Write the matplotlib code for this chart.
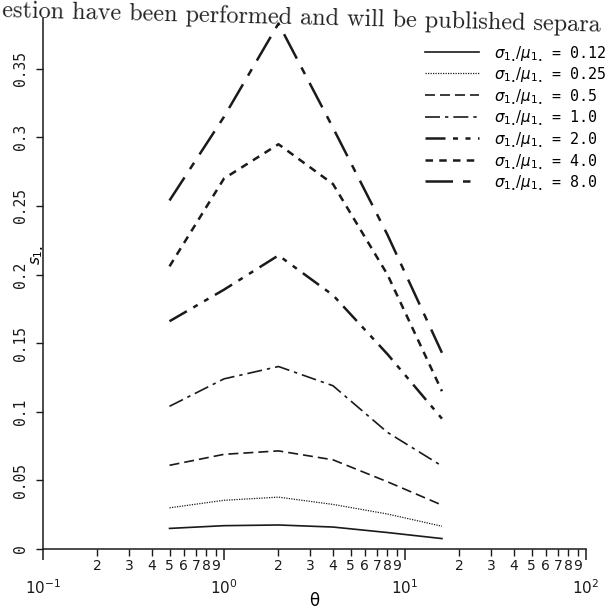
import numpy as np
import matplotlib
matplotlib.use("Agg")
import matplotlib.pyplot as plt
from matplotlib.ticker import FixedLocator, FuncFormatter

# ---- data ----
theta = [0.5, 1.0, 2.0, 4.0, 8.0, 16.0]
ratios = ["0.12", "0.25", "0.5", "1.0", "2.0", "4.0", "8.0"]
s_012 = [0.015, 0.017, 0.0175, 0.016, 0.012, 0.0076]
s_025 = [0.030, 0.0355, 0.0378, 0.0325, 0.0255, 0.0166]
s_05 = [0.061, 0.069, 0.0715, 0.065, 0.049, 0.032]
s_10 = [0.104, 0.124, 0.133, 0.119, 0.085, 0.0605]
s_20 = [0.166, 0.189, 0.214, 0.185, 0.142, 0.095]
s_40 = [0.206, 0.270, 0.295, 0.266, 0.200, 0.115]
s_80 = [0.254, 0.315, 0.383, 0.307, 0.229, 0.143]
series = [s_012, s_025, s_05, s_10, s_20, s_40, s_80]
yticks = [0, 0.05, 0.1, 0.15, 0.2, 0.25, 0.3, 0.35]
ytick_labels = ["0", "0.05", "0.1", "0.15", "0.2", "0.25", "0.3", "0.35"]
xmajor = [0.1, 1, 10, 100]
xmajor_labels = [r"$10^{-1}$", r"$10^{0}$", r"$10^{1}$", r"$10^{2}$"]
header_text = "estion have been performed and will be published separa"

styles = [
    dict(ls="-", lw=1.2),
    dict(ls=(0, (1, 1)), lw=0.9),
    dict(ls=(0, (6, 3)), lw=1.2),
    dict(ls=(0, (9, 3, 2, 3)), lw=1.2),
    dict(ls=(0, (8, 3, 2, 3, 2, 3)), lw=1.8),
    dict(ls=(0, (3, 2.5)), lw=1.8),
    dict(ls=(0, (11, 4, 3, 4)), lw=1.8),
]

W, H = 609, 611
fig = plt.figure(figsize=(W / 100, H / 100), dpi=100)
fig.patch.set_facecolor("white")
left, right, bottom_px, top_px = 43, 586, 549, 18
ax = fig.add_axes([left / W, (H - bottom_px) / H, (right - left) / W, (bottom_px - top_px) / H])

for ys, st, r in zip(series, styles, ratios):
    ax.plot(theta, ys, color="#1a1a1a", linestyle=st["ls"], lw=st["lw"],
            label=r"$\sigma_{1_{\bullet}}/\mu_{1_{\bullet}}$ = " + r)

ax.set_xscale("log")
ax.set_xlim(0.1, 100)
ax.set_ylim(0, 0.387)

ax.spines["top"].set_visible(False)
ax.spines["right"].set_visible(False)
for s in ("left", "bottom"):
    ax.spines[s].set_linewidth(1.1)
    ax.spines[s].set_color("#1a1a1a")

ax.xaxis.set_major_locator(FixedLocator(xmajor))
ax.xaxis.set_major_formatter(FuncFormatter(lambda v, p: xmajor_labels[p] if p is not None and p < len(xmajor_labels) else ""))
minors = [d * 10.0 ** e for e in (-1, 0, 1) for d in range(2, 10)]
ax.xaxis.set_minor_locator(FixedLocator(minors))
ax.xaxis.set_minor_formatter(FuncFormatter(lambda v, p: str(int(round(v / 10 ** np.floor(np.log10(v) + 1e-9))))))
ax.tick_params(axis="x", which="major", length=8, width=1.1, pad=13, labelsize=11, colors="#1a1a1a")
ax.tick_params(axis="x", which="minor", length=5, width=1.0, pad=2, labelsize=10, colors="#1a1a1a")

ax.set_yticks(yticks)
ax.set_yticklabels(ytick_labels, rotation=90, va="center", family="DejaVu Sans Mono", fontsize=10.5)
ax.tick_params(axis="y", which="major", length=5, width=1.0, pad=6, colors="#1a1a1a")

fig.text(314 / W, 1 - 601 / H, "θ", ha="center", va="center", fontsize=12, family="DejaVu Sans")
fig.text(37 / W, 1 - 255 / H, r"$s_{1_{\bullet}}$", ha="center", va="center", rotation=90, fontsize=11)

leg = ax.legend(loc="upper right", bbox_to_anchor=(606 / W, 1 - 44 / H), bbox_transform=fig.transFigure,
                frameon=False, handlelength=3.6, handletextpad=1.0, labelspacing=0.2,
                borderpad=0, borderaxespad=0, prop={"family": "DejaVu Sans Mono", "size": 10.8})

fig.text(2 / W, 1 - 17 / H, header_text,
         family="cmr10", fontsize=17.4, rotation=-1.4, ha="left", va="baseline",
         rotation_mode="anchor", color="#222222")

fig.savefig("out.png", dpi=100, facecolor="white")
